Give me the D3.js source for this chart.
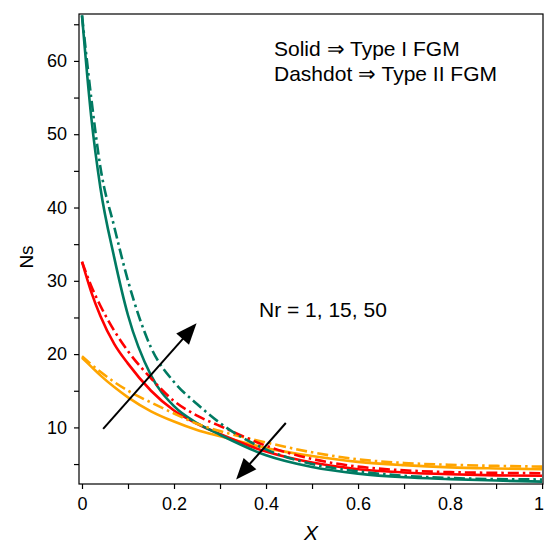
<!DOCTYPE html>
<html><head><meta charset="utf-8">
<script src="https://cdn.jsdelivr.net/npm/d3@7"></script>
<style>body{margin:0;background:#fff}text{font-family:"Liberation Sans",Arial,sans-serif}</style>
</head><body>
<svg id="c" width="544" height="543"></svg>
<script>
const xGrid = [0, 0.02, 0.04, 0.07, 0.1, 0.15, 0.2, 0.25, 0.3, 0.4, 0.5, 0.6, 0.7, 0.8, 0.9, 1.0];
const tealSolid  = [66.2, 52.4, 42.7, 33.2, 25.3, 17.1, 12.9, 10.6, 9.0, 6.2, 4.6, 3.7, 3.2, 2.95, 2.75, 2.6];
const tealDash   = [66.2, 55.0, 45.5, 37.4, 30.0, 20.9, 16.2, 13.2, 10.6, 7.0, 5.0, 4.0, 3.4, 3.1, 2.95, 2.9];
const redSolid   = [32.6, 28.5, 25.2, 21.4, 18.7, 15.0, 12.3, 10.5, 9.1, 6.7, 5.2, 4.3, 3.85, 3.6, 3.45, 3.4];
const redDash    = [32.6, 29.3, 26.6, 23.2, 20.4, 16.7, 13.6, 11.6, 10.2, 7.5, 5.7, 4.65, 4.15, 3.9, 3.8, 3.75];
const orangeSolid= [19.5, 18.3, 17.1, 15.5, 14.1, 12.2, 10.8, 9.65, 8.8, 7.2, 6.1, 5.3, 4.85, 4.55, 4.4, 4.3];
const orangeDash = [19.7, 18.6, 17.6, 16.2, 15.0, 13.4, 11.9, 10.5, 9.5, 7.95, 6.6, 5.65, 5.15, 4.9, 4.75, 4.65];

const xMajor = [0, 0.2, 0.4, 0.6, 0.8, 1];
const xMinor = [0.1, 0.3, 0.5, 0.7, 0.9];
const yMajor = [10, 20, 30, 40, 50, 60];
const yMinor = [5, 15, 25, 35, 45, 55, 65];

const legendLines = ["Solid \u21D2 Type I FGM", "Dashdot \u21D2 Type II FGM"];
const nrLabel = "Nr = 1, 15, 50";
// arrows in data coords [x0,y0,x1,y1]
const arrowUp = [0.046, 9.8, 0.249, 24.2];
const arrowDown = [0.443, 10.6, 0.335, 2.9];

const series = [
  {v: orangeSolid, c: "#FFA500", dash: null},
  {v: redSolid, c: "#FF0000", dash: null},
  {v: tealSolid, c: "#007A62", dash: null},
  {v: orangeDash, c: "#FFA500", dash: "11,4,2.5,4"},
  {v: redDash, c: "#FF0000", dash: "11,4,2.5,4"},
  {v: tealDash, c: "#007A62", dash: "11,4,2.5,4"}
];

const svg = d3.select("#c");
const L = 79, R = 543, T = 14, B = 484;
const x = d3.scaleLinear().domain([-0.0065, 1.002]).range([L, R]);
const y = d3.scaleLinear().domain([2.28, 66.4]).range([B, T]);

svg.append("clipPath").attr("id","pc").append("rect")
  .attr("x", L).attr("y", T).attr("width", R-L).attr("height", B-T);

const line = d3.line().x((d,i)=>x(xGrid[i])).y(d=>y(d)).curve(d3.curveMonotoneX);
const g = svg.append("g").attr("clip-path","url(#pc)");
series.forEach(s=>{
  g.append("path").attr("d", line(s.v)).attr("fill","none")
   .attr("stroke", s.c).attr("stroke-width", 2.6)
   .attr("stroke-dasharray", s.dash);
});

// frame
svg.append("rect").attr("x", L).attr("y", T).attr("width", R-L).attr("height", B-T)
  .attr("fill","none").attr("stroke","#000").attr("stroke-width",1.2);

// axes
svg.append("g").attr("transform",`translate(0,${B})`)
  .call(d3.axisBottom(x).tickValues(xMajor).tickSize(5).tickPadding(8).tickFormat(d=>d3.format("")(d)))
  .selectAll(".tick text").filter(d => d === 1)
  .attr("text-anchor", "end").attr("dx", 1.5);
svg.append("g").attr("transform",`translate(0,${B})`)
  .call(d3.axisBottom(x).tickValues(xMinor).tickSize(5).tickFormat(""));
svg.append("g").attr("transform",`translate(${L},0)`)
  .call(d3.axisLeft(y).tickValues(yMajor).tickSize(5).tickPadding(7));
svg.append("g").attr("transform",`translate(${L},0)`)
  .call(d3.axisLeft(y).tickValues(yMinor).tickSize(5).tickFormat(""));
svg.selectAll(".domain").remove();
svg.selectAll(".tick line").attr("stroke","#000").attr("stroke-width",1.2);
svg.selectAll(".tick text").attr("font-size",18).attr("fill","#000")
  .style("font-family","'Liberation Sans',Arial,sans-serif");

// arrows
function arrow(a){
  const x0=x(a[0]), y0=y(a[1]), x1=x(a[2]), y1=y(a[3]);
  const dx=x1-x0, dy=y1-y0, len=Math.hypot(dx,dy), ux=dx/len, uy=dy/len;
  const hl=21, hw=8.5;
  const bx=x1-ux*hl, by=y1-uy*hl;
  svg.append("line").attr("x1",x0).attr("y1",y0).attr("x2",bx+ux*2).attr("y2",by+uy*2)
    .attr("stroke","#000").attr("stroke-width",2);
  svg.append("path").attr("d",`M${x1},${y1}L${bx-uy*hw},${by+ux*hw}L${bx+uy*hw},${by-ux*hw}Z`)
    .attr("fill","#000");
}
arrow(arrowUp); arrow(arrowDown);

// texts
legendLines.forEach((t,i)=>{
  svg.append("text").attr("x",274).attr("y",56+i*25).attr("font-size",21).attr("fill","#000").text(t);
});
svg.append("text").attr("x",259).attr("y",317).attr("font-size",21).attr("fill","#000").text(nrLabel);
svg.append("text").attr("x",311).attr("y",540).attr("text-anchor","middle").attr("font-size",21)
  .attr("font-style","italic").attr("fill","#000").text("X");
svg.append("text").attr("transform","translate(33,257) rotate(-90)").attr("text-anchor","middle")
  .attr("font-size",19).attr("fill","#000").text("Ns");
</script>
</body></html>
